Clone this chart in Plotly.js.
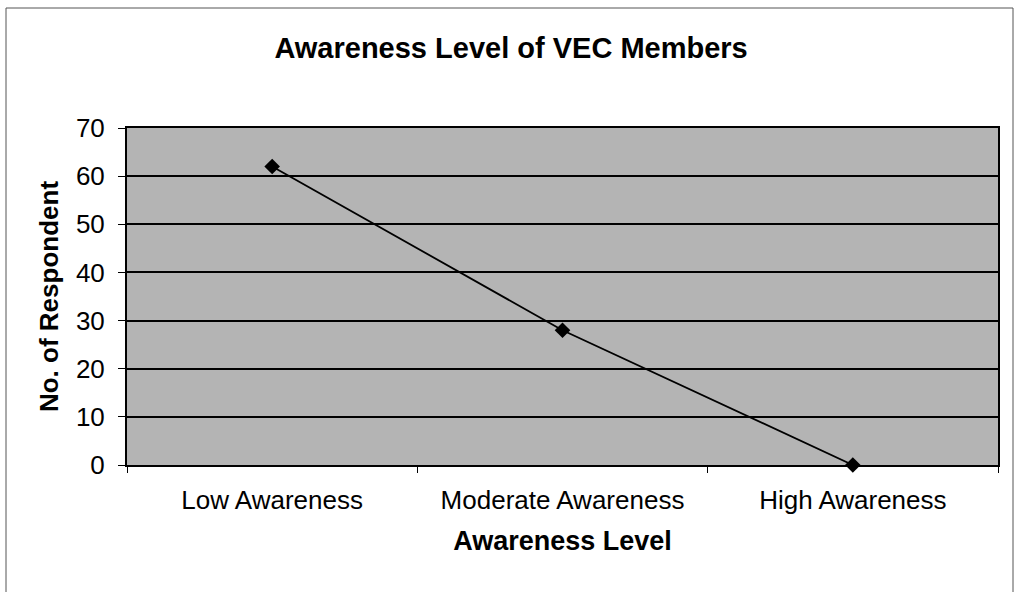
<!DOCTYPE html>
<html>
<head>
<meta charset="utf-8">
<script src="https://cdn.plot.ly/plotly-3.0.1.min.js"></script>
<style>html,body{margin:0;padding:0;background:#fff;}#chart{width:1016px;height:592px;}</style>
</head>
<body>
<div id="chart"></div>
<script>
var categories = ["Low Awareness", "Moderate Awareness", "High Awareness"];
var respondents = [62, 28, 0];
var yTicks = [0, 10, 20, 30, 40, 50, 60, 70];

var trace = {
  type: "scatter",
  mode: "lines+markers",
  x: categories,
  y: respondents,
  line: {color: "#000", width: 1.8},
  marker: {symbol: "diamond", size: 12, color: "#000"},
  cliponaxis: false,
  hoverinfo: "x+y"
};

var layout = {
  width: 1016,
  height: 592,
  margin: {l: 127, r: 18, t: 128, b: 127},
  paper_bgcolor: "#ffffff",
  plot_bgcolor: "#b4b4b4",
  font: {family: "Liberation Sans, Arial, sans-serif", color: "#000"},
  showlegend: false,
  title: {
    text: "<b>Awareness Level of VEC Members</b>",
    font: {size: 29, color: "#000"},
    x: 0.503, xanchor: "center",
    y: 0.919, yanchor: "middle"
  },
  xaxis: {
    type: "category",
    range: [-0.5, 2.5],
    tickson: "boundaries",
    ticks: "outside",
    ticklen: 6,
    tickcolor: "#000",
    ticklabelstandoff: 11,
    showline: true,
    linecolor: "#000",
    linewidth: 2,
    mirror: true,
    showgrid: false,
    tickfont: {size: 26},
    title: {text: "<b>Awareness Level</b>", font: {size: 27}, standoff: 17},
    fixedrange: true
  },
  yaxis: {
    range: [0, 70],
    tickvals: yTicks,
    ticktext: yTicks.map(String),
    ticks: "outside",
    ticklen: 7,
    tickcolor: "#000",
    ticklabelstandoff: 8,
    showline: true,
    linecolor: "#000",
    linewidth: 2,
    mirror: true,
    showgrid: true,
    gridcolor: "#000",
    gridwidth: 2,
    zeroline: false,
    tickfont: {size: 26},
    title: {text: "<b>No. of Respondent</b>", font: {size: 26}, standoff: 10},
    fixedrange: true
  },
  shapes: [{
    type: "rect", xref: "paper", yref: "paper",
    x0: -121/871, x1: 1013/871 - 127/871, y0: -0.5, y1: (592 - 8 - 127) / 337,
    line: {color: "#555", width: 1}, fillcolor: "rgba(0,0,0,0)", layer: "below"
  }]
};

Plotly.newPlot("chart", [trace], layout, {displayModeBar: false, staticPlot: true});
</script>
</body>
</html>
